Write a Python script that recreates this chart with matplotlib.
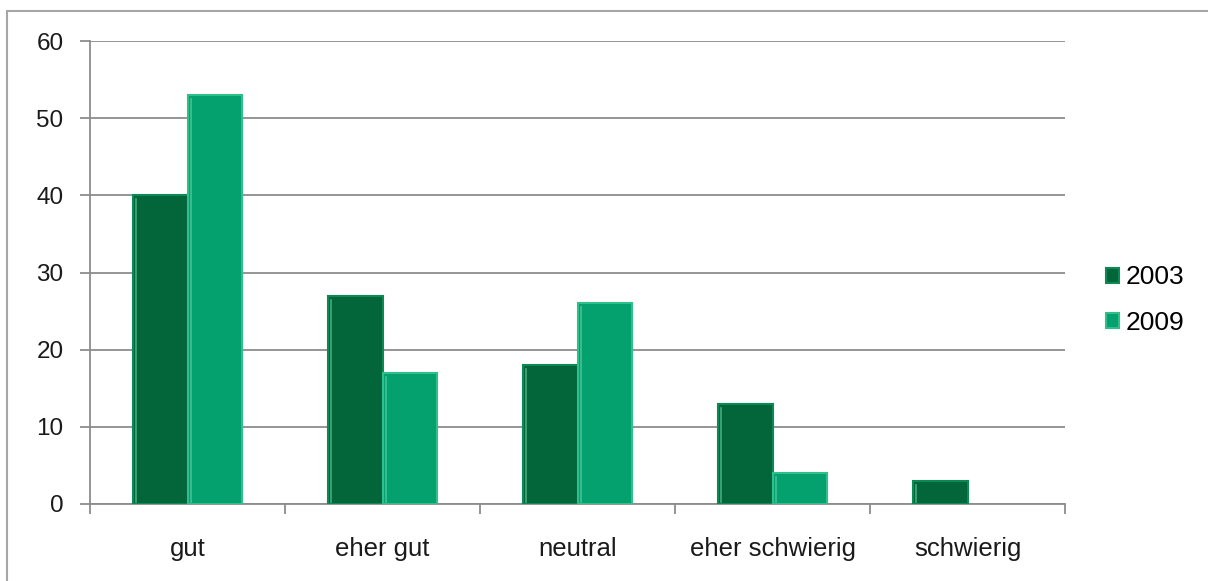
import matplotlib.pyplot as plt
import numpy as np
from matplotlib.patches import Rectangle

categories = ["gut", "eher gut", "neutral", "eher schwierig", "schwierig"]
values_2003 = [40, 27, 18, 13, 3]
values_2009 = [53, 17, 26, 4, 0]
years = ["2003", "2009"]
yticks = [0, 10, 20, 30, 40, 50, 60]

dark = "#03653a"
light = "#04a06e"
dark_edge = "#0b8a55"
light_edge = "#2fbf8a"
grid_col = "#8c8c8c"

plt.rcParams["font.family"] = ["Liberation Sans", "DejaVu Sans"]

fig = plt.figure(figsize=(12.08, 5.81), dpi=100)
ax = fig.add_axes([90 / 1208, 77 / 581, 975 / 1208, 463 / 581])

x = np.arange(len(categories))
w = 0.28
for vals, off, fc, ec, lab in [(values_2003, -w / 2, dark, dark_edge, years[0]),
                               (values_2009, w / 2, light, light_edge, years[1])]:
    v = np.array(vals, dtype=float)
    mask = v > 0
    ax.bar(x[mask] + off, v[mask], width=w, color=fc, edgecolor=ec,
           linewidth=1.5, zorder=3, label=lab)
    # bevel highlight along the left edge
    for xi, vi in zip(x[mask] + off, v[mask]):
        ax.plot([xi - w / 2 + 0.018, xi - w / 2 + 0.018], [0.3, vi - 0.5],
                color="#6fd9ad", lw=1.2, alpha=0.6, zorder=4)

ax.set_xlim(-0.5, len(categories) - 0.5)
ax.set_ylim(0, 60)
ax.set_yticks(yticks)
ax.yaxis.grid(True, color=grid_col, lw=1.3, zorder=0)
ax.set_axisbelow(True)

for s in ["top", "right"]:
    ax.spines[s].set_visible(False)
ax.spines["left"].set_color(grid_col)
ax.spines["bottom"].set_color(grid_col)
ax.spines["left"].set_linewidth(1.3)
ax.spines["bottom"].set_linewidth(1.3)

ax.set_xticks(x)
ax.set_xticklabels(categories, fontsize=18.5, color="#1a1a1a")
ax.tick_params(axis="x", length=0, pad=24)
ax.set_xticks(np.arange(-0.5, len(categories)), minor=True)
ax.tick_params(axis="x", which="minor", length=7, width=1.3, color=grid_col, direction="out")
ax.tick_params(axis="y", length=7, width=1.3, color=grid_col, labelsize=17.5,
               labelcolor="#1a1a1a", pad=12)
ax.spines["bottom"].set_bounds(-0.5, len(categories) - 0.5)

leg = fig.legend(loc="center left", bbox_to_anchor=(1082 / 1208, 1 - 300 / 581),
                 frameon=False, fontsize=19, handlelength=0.5, handleheight=0.5,
                 handletextpad=0.25, labelspacing=0.8)

# outer chart frame
fig.patches.append(Rectangle((7 / 1208, -0.1), 1.2, 1 - 11 / 581 + 0.1,
                             transform=fig.transFigure, fill=False,
                             edgecolor="#a6a6a6", lw=1.5))

fig.savefig("out.png", dpi=100)
